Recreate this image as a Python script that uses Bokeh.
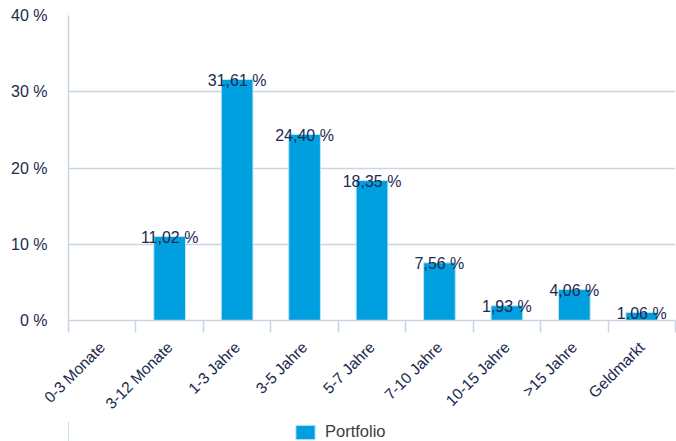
from bokeh.plotting import figure
from bokeh.layouts import column
from bokeh.models import ColumnDataSource, FixedTicker, Range1d, Legend, LegendItem
from bokeh.embed import file_html
from bokeh.resources import INLINE
from bokeh.core.properties import value
import math

categories = ["0-3 Monate", "3-12 Monate", "1-3 Jahre", "3-5 Jahre", "5-7 Jahre",
              "7-10 Jahre", "10-15 Jahre", ">15 Jahre", "Geldmarkt"]
portfolio = [0.0, 11.02, 31.61, 24.40, 18.35, 7.56, 1.93, 4.06, 1.06]
y_ticks = [0, 10, 20, 30, 40]
y_tick_labels = ["0 %", "10 %", "20 %", "30 %", "40 %"]
series_name = "Portfolio"

FONT = "Liberation Sans"
NAVY = "#1b2a50"
GRID = "#cbd6e4"
BLUE = "#009fdf"
W = 676

xs = [i + 0.5 for i in range(len(categories))]
shown = [i for i, v in enumerate(portfolio) if v > 0]
src = ColumnDataSource(dict(
    x=[xs[i] for i in shown],
    top=[portfolio[i] for i in shown],
    label=[f"{portfolio[i]:.2f}".replace(".", ",") + " %" for i in shown],
))

p = figure(width=W, height=421, output_backend="svg", toolbar_location=None,
           x_range=Range1d(0, len(categories)), y_range=Range1d(0, 40),
           min_border_left=68, min_border_right=1, min_border_top=15, min_border_bottom=90)
p.outline_line_color = None
p.background_fill_color = "white"
p.border_fill_color = "white"

r = p.vbar(x="x", top="top", width=0.47, source=src, fill_color=BLUE,
           line_color="#bfe4f6", line_width=1)
p.text(x="x", y="top", text="label", source=src, text_align="center",
       text_baseline="alphabetic", y_offset=1, text_font=value(FONT),
       text_font_size="16px", text_color=NAVY)

p.xgrid.grid_line_color = None
p.ygrid.grid_line_color = GRID
p.ygrid.grid_line_width = 1.5
p.ygrid.ticker = FixedTicker(ticks=y_ticks)

p.yaxis.ticker = FixedTicker(ticks=y_ticks)
p.yaxis.major_label_overrides = {t: l for t, l in zip(y_ticks, y_tick_labels)}
p.yaxis.axis_line_color = GRID
p.yaxis.axis_line_width = 1.5
p.yaxis.major_tick_line_color = None
p.yaxis.major_tick_out = 0
p.yaxis.major_tick_in = 0
p.yaxis.minor_tick_line_color = None
p.yaxis.major_label_standoff = 21
p.yaxis.major_label_text_font = FONT
p.yaxis.major_label_text_font_size = "16px"
p.yaxis.major_label_text_color = NAVY

p.xaxis.ticker = FixedTicker(ticks=xs, minor_ticks=list(range(len(categories) + 1)))
p.xaxis.major_label_overrides = {x: c for x, c in zip(xs, categories)}
p.xaxis.major_label_orientation = math.pi / 4
p.xaxis.axis_line_color = GRID
p.xaxis.axis_line_width = 1.5
p.xaxis.major_tick_line_color = None
p.xaxis.major_tick_out = 0
p.xaxis.major_tick_in = 0
p.xaxis.minor_tick_line_color = GRID
p.xaxis.minor_tick_line_width = 1.5
p.xaxis.minor_tick_out = 12
p.xaxis.minor_tick_in = 0
p.xaxis.major_label_standoff = 12
p.xaxis.major_label_text_font = FONT
p.xaxis.major_label_text_font_size = "15.5px"
p.xaxis.major_label_text_color = NAVY

# legend strip
lf = figure(width=W, height=20, output_backend="svg", toolbar_location=None,
            x_range=Range1d(0, 1), y_range=Range1d(0, 1),
            x_axis_type=None, y_axis_type=None,
            min_border=0)
lf.outline_line_color = None
lf.background_fill_alpha = 0
lf.border_fill_alpha = 0
lf.grid.visible = False
lr = lf.vbar(x=[-10], top=[1], width=0.1, fill_color=BLUE, line_color="#bfe4f6")
legend = Legend(items=[LegendItem(label=series_name, renderers=[lr])],
                orientation="horizontal", location=(225, 0),
                label_text_font=FONT, label_text_font_size="16.5px",
                label_text_color="#3d3d3d", glyph_width=24, glyph_height=18,
                label_height=18,
                border_line_color=None, background_fill_alpha=0,
                padding=0, margin=0, label_standoff=8)
lf.add_layout(legend, "center")

layout = column(p, lf, spacing=0)
open("out.html", "w").write(file_html(layout, INLINE))
